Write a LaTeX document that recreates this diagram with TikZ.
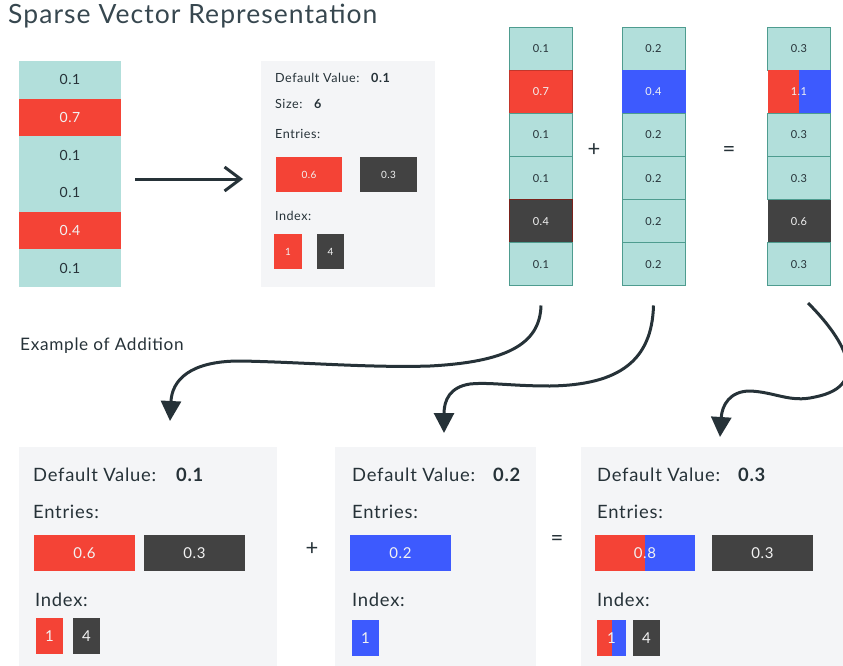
\documentclass[tikz,border=0pt]{standalone}
\usepackage{fontspec}
\setmainfont{Lato}[LetterSpace=4]
\usetikzlibrary{arrows.meta}
\definecolor{tealf}{HTML}{B2DFDB}
\definecolor{tealb}{HTML}{4E9C8F}
\definecolor{redf}{HTML}{F44336}
\definecolor{bluef}{HTML}{3D5AFE}
\definecolor{darkf}{HTML}{424242}
\definecolor{panelf}{HTML}{F4F5F7}
\definecolor{ink}{HTML}{263238}
\definecolor{inkt}{HTML}{37474F}
\definecolor{wtxt}{HTML}{F2F2F2}
\begin{document}
\begin{tikzpicture}[x=1pt,y=-1pt,
  lbl/.style={inner sep=0pt, anchor=west, text=ink},
  sS/.style={font=\fontsize{12.6}{15}\selectfont},
  sSb/.style={font=\fontsize{12.6}{15}\selectfont\bfseries},
  sL/.style={font=\fontsize{18.4}{22}\selectfont},
  sLb/.style={font=\fontsize{18.4}{22}\selectfont\bfseries},
  cellL/.style={rectangle, fill=tealf, minimum width=102pt, minimum height=37.67pt, inner sep=0pt, text=ink, font=\fontsize{14}{16}\selectfont},
  redL/.style={cellL, fill=redf, text=wtxt},
  cellR/.style={rectangle, draw=tealb, line width=1pt, fill=tealf, minimum width=63pt, minimum height=43.17pt, inner sep=0pt, text=ink, font=\fontsize{11}{13}\selectfont},
  panel/.style={rectangle, fill=panelf, inner sep=0pt, anchor=north west},
  sbox/.style={rectangle, inner sep=0pt, minimum height=35pt, text=wtxt, font=\fontsize{10}{12}\selectfont},
  bbox/.style={rectangle, inner sep=0pt, minimum height=36pt, text=wtxt, font=\fontsize{15}{18}\selectfont},
  halfsplit/.style={fill=bluef, path picture={\fill[redf] (path picture bounding box.north west) rectangle (path picture bounding box.south);}},
  curve/.style={line width=3pt, draw=ink, -{Triangle[length=20pt,width=20pt]}},
  op/.style={inner sep=0pt, text=ink, font=\fontsize{22}{24}\selectfont}
]
\useasboundingbox (0,0) rectangle (843,666);
\clip (0,0) rectangle (843,666);

% title
\node[inner sep=0pt, anchor=base west, text=inkt, font=\fontsize{26.5}{31}\selectfont] (title) at (8,24) {Sparse Vector Representation};

% left column
\node[cellL] (L1) at (70,79.8) {0.1};
\node[redL]  (L2) at (70,117.5) {0.7};
\node[cellL] (L3) at (70,155.2) {0.1};
\node[cellL] (L4) at (70,192.8) {0.1};
\node[redL]  (L5) at (70,230.5) {0.4};
\node[cellL] (L6) at (70,268.2) {0.1};

% arrow
\coordinate (a1) at (135,179);
\coordinate (a2) at (243,179);
\draw[line width=3pt, draw=ink, -{Straight Barb[length=16pt,width=24pt]}] (a1) -- (a2);

% top panel
\node[panel, minimum width=174pt, minimum height=226pt] (p0) at (261,61) {};
\node[lbl, sS] (p0dv) at (275,78) {Default Value:};
\node[lbl, sSb] (p0dvv) at (371,78) {0.1};
\node[lbl, sS] (p0sz) at (275,104) {Size:};
\node[lbl, sSb] (p0szv) at (314,104) {6};
\node[lbl, sS] (p0en) at (275,134) {Entries:};
\node[sbox, fill=redf, minimum width=66pt] (p0e1) at (309,174.5) {0.6};
\node[sbox, fill=darkf, minimum width=57pt] (p0e2) at (388.5,174.5) {0.3};
\node[lbl, sS] (p0ix) at (275,216) {Index:};
\node[sbox, fill=redf, minimum width=28pt] (p0i1) at (288,251.5) {1};
\node[sbox, fill=darkf, minimum width=27pt] (p0i2) at (330.5,251.5) {4};

% top right columns
\node[cellR] (A1) at (541,48.6) {0.1};
\node[cellR, fill=redf, draw=redf!80!black, text=wtxt] (A2) at (541,91.8) {0.7};
\node[cellR] (A3) at (541,134.9) {0.1};
\node[cellR] (A4) at (541,178.1) {0.1};
\node[cellR, fill=darkf, draw=redf!50!black, text=wtxt] (A5) at (541,221.3) {0.4};
\node[cellR] (A6) at (541,264.4) {0.1};

\node[cellR] (B1) at (653.5,48.6) {0.2};
\node[cellR, fill=bluef, draw=bluef, text=wtxt] (B2) at (653.5,91.8) {0.4};
\node[cellR] (B3) at (653.5,134.9) {0.2};
\node[cellR] (B4) at (653.5,178.1) {0.2};
\node[cellR] (B5) at (653.5,221.3) {0.2};
\node[cellR] (B6) at (653.5,264.4) {0.2};

\node[cellR] (C1) at (799,48.6) {0.3};
\node[cellR, halfsplit, draw=none, text=wtxt] (C2) at (799,91.8) {1.1};
\node[cellR] (C3) at (799,134.9) {0.3};
\node[cellR] (C4) at (799,178.1) {0.3};
\node[cellR, fill=darkf, draw=none, text=wtxt] (C5) at (799,221.3) {0.6};
\node[cellR] (C6) at (799,264.4) {0.3};

\node[op] (plusT) at (594,150) {+};
\node[op] (eqT) at (729,152) {=};

% caption
\node[lbl, font=\fontsize{17.2}{20}\selectfont] (ex) at (20,346) {Example of Addition};

% bottom panels
\node[panel, minimum width=258pt, minimum height=225pt] (p1) at (19,447) {};
\node[panel, minimum width=201pt, minimum height=225pt] (p2) at (335,447) {};
\node[panel, minimum width=270pt, minimum height=225pt] (p3) at (581,447) {};

% panel 1
\node[lbl, sL] (p1dv) at (33,475) {Default Value:};
\node[lbl, sLb] (p1dvv) at (176,475) {0.1};
\node[lbl, sL] (p1en) at (33,512) {Entries:};
\node[bbox, fill=redf, minimum width=101pt] (p1e1) at (84.5,553) {0.6};
\node[bbox, fill=darkf, minimum width=101pt] (p1e2) at (194.5,553) {0.3};
\node[lbl, sL] (p1ix) at (35,600) {Index:};
\node[bbox, fill=redf, minimum width=27pt] (p1i1) at (49.5,636) {1};
\node[bbox, fill=darkf, minimum width=27pt] (p1i2) at (86.5,636) {4};

% panel 2
\node[lbl, sL] (p2dv) at (352,475) {Default Value:};
\node[lbl, sLb] (p2dvv) at (493,475) {0.2};
\node[lbl, sL] (p2en) at (352,512) {Entries:};
\node[bbox, fill=bluef, minimum width=101pt] (p2e1) at (400.5,553) {0.2};
\node[lbl, sL] (p2ix) at (352,600) {Index:};
\node[bbox, fill=bluef, minimum width=27pt] (p2i1) at (365.5,638) {1};

% panel 3
\node[lbl, sL] (p3dv) at (597,475) {Default Value:};
\node[lbl, sLb] (p3dvv) at (738,475) {0.3};
\node[lbl, sL] (p3en) at (597,512) {Entries:};
\node[bbox, halfsplit, minimum width=100pt] (p3e1) at (645,553) {0.8};
\node[bbox, fill=darkf, minimum width=101pt] (p3e2) at (762.5,553) {0.3};
\node[lbl, sL] (p3ix) at (597,600) {Index:};
\node[bbox, halfsplit, minimum width=29pt] (p3i1) at (611.5,638) {1};
\node[bbox, fill=darkf, minimum width=27pt] (p3i2) at (646.5,638) {4};

\node[op] (plusB) at (312,549) {+};
\node[op] (eqB) at (557,540) {=};

% curves
\coordinate (s1) at ([yshift=-19pt]A6.south);
\coordinate (s2) at ([yshift=-19pt]B6.south);
\coordinate (s3) at (808,303);
\coordinate (e1) at (170,421);
\coordinate (e2) at (444,433);
\coordinate (e3) at (720,437);
\draw[curve] (s1) .. controls (540,345) and (505,362) .. (430,366)
  .. controls (370,368) and (300,362) .. (240,361)
  .. controls (190,361) and (172,380) .. (e1);
\draw[curve] (s2) .. controls (652,360) and (620,385) .. (550,386)
  .. controls (510,386) and (490,382) .. (470,384)
  .. controls (450,387) and (444,400) .. (e2);
\draw[curve] (s3) .. controls (840,335) and (875,385) .. (815,397)
  .. controls (790,403) and (775,392) .. (750,391)
  .. controls (730,391) and (722,405) .. (e3);
\end{tikzpicture}
\end{document}
